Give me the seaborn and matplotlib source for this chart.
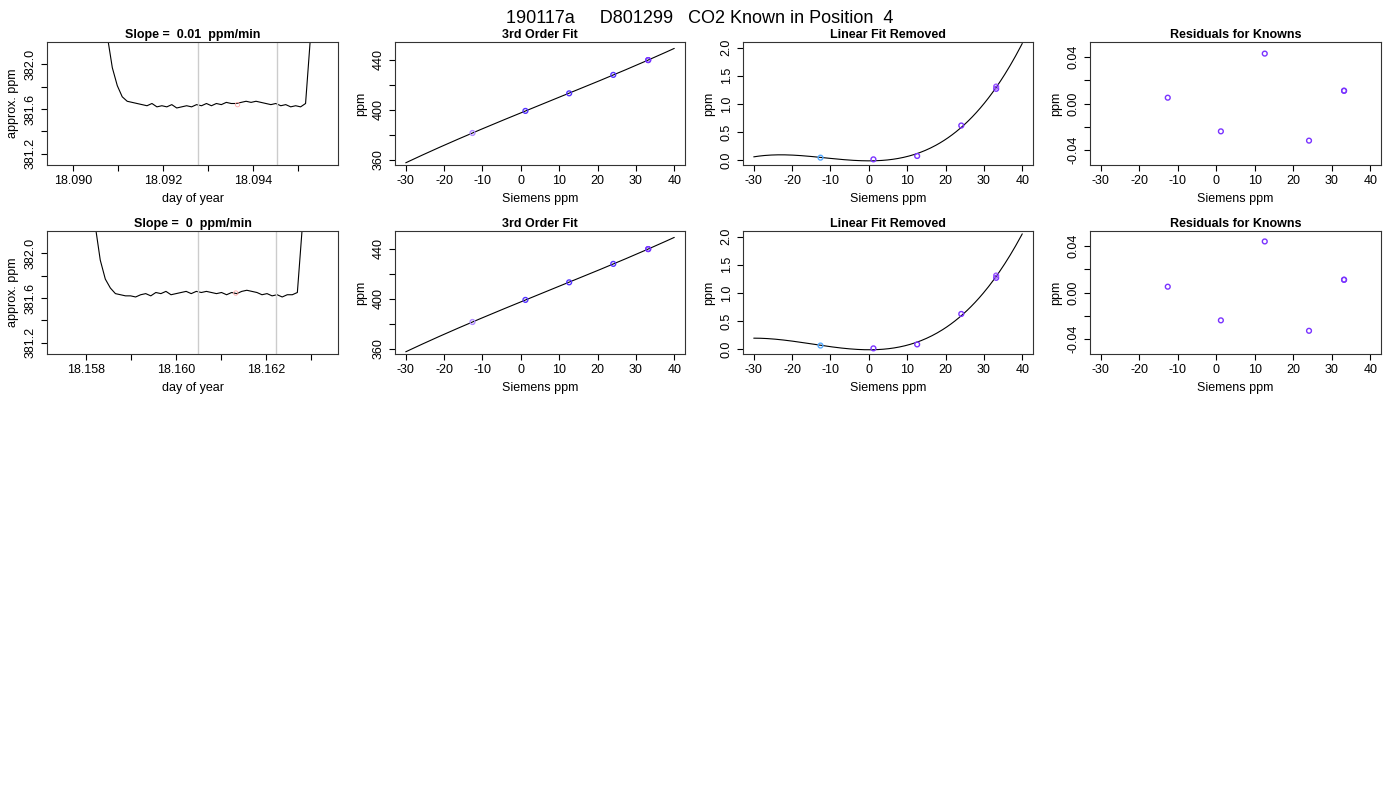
import numpy as np
import matplotlib.pyplot as plt
import seaborn as sns

sns.set_style("white")
plt.rcParams["font.family"] = ["Liberation Sans", "DejaVu Sans"]
plt.rcParams["axes.unicode_minus"] = False
plt.rcParams["text.color"] = "black"
plt.rcParams["axes.labelcolor"] = "black"
plt.rcParams["xtick.color"] = "black"
plt.rcParams["ytick.color"] = "black"

title = "190117a     D801299   CO2 Known in Position  4"
slopes = ["0.01", "0"]

# trace values (approx ppm), evenly spaced across each run
trace1_start, trace1_end = 18.09076, 18.09527
trace1 = [382.25, 381.97, 381.81, 381.71, 381.67, 381.66, 381.65, 381.64, 381.63, 381.65,
          381.62, 381.63, 381.62, 381.64, 381.61, 381.62, 381.63, 381.62, 381.64, 381.63,
          381.65, 381.63, 381.65, 381.64, 381.66, 381.65, 381.65, 381.66, 381.67, 381.66,
          381.67, 381.66, 381.65, 381.64, 381.65, 381.63, 381.64, 381.62, 381.63, 381.62,
          381.65, 382.25]
trace2_start, trace2_end = 18.15820, 18.16280
trace2 = [382.25, 381.94, 381.77, 381.69, 381.64, 381.63, 381.62, 381.62, 381.61, 381.63,
          381.64, 381.62, 381.65, 381.64, 381.66, 381.63, 381.64, 381.65, 381.66, 381.64,
          381.66, 381.65, 381.66, 381.65, 381.64, 381.65, 381.63, 381.65, 381.64, 381.66,
          381.67, 381.66, 381.65, 381.63, 381.64, 381.62, 381.63, 381.61, 381.63, 381.63,
          381.65, 382.25]
means = [(18.09365, 381.64), (18.16132, 381.645)]
vlines = [(18.09278, 18.09453), (18.16048, 18.16222)]
xlims = [(18.08942, 18.09588), (18.15713, 18.16359)]
xticks = [[18.090, 18.092, 18.094], [18.158, 18.160, 18.162]]

siemens = [-12.6, 1.2, 12.6, 24.1, 33.2, 33.2]
known = [381.5, 399.1, 413.1, 427.8, 439.6, 439.6]
lin_removed = [[0.05, 0.02, 0.08, 0.62, 1.27, 1.31], [0.07, 0.02, 0.09, 0.63, 1.27, 1.31]]
resid = [[0.005, -0.024, 0.043, -0.032, 0.011, 0.011], [0.005, -0.024, 0.044, -0.033, 0.011, 0.011]]
pt_colors = ["#55aaff", "#7a33ff", "#7a33ff", "#7a33ff", "#7a33ff", "#9a55ff"]
fit_colors = ["#b08cff", "#5533ff", "#5533ff", "#5533ff", "#5533ff", "#7a33ff"]

fig = plt.figure(figsize=(14, 8), dpi=100)
fig.text(0.5, 0.988, title, ha="center", va="top", fontsize=13)

W, H = 1400, 800
cols = [(47, 338), (395, 685), (743, 1033), (1090, 1381)]
rows = [(42, 165), (231, 354)]


def mk(c, r):
    x0, x1 = cols[c]
    y0, y1 = rows[r]
    return fig.add_axes([x0 / W, 1 - y1 / H, (x1 - x0) / W, (y1 - y0) / H])


def style(ax, t, xl, yl):
    ax.set_title(t, fontsize=9, fontweight="bold", pad=3)
    ax.set_xlabel(xl, fontsize=9)
    ax.set_ylabel(yl, fontsize=9)
    ax.tick_params(labelsize=9, length=4, direction="out", bottom=True, left=True)
    for lab in ax.get_yticklabels():
        lab.set_rotation(90)
        lab.set_va("center")
    for s in ax.spines.values():
        s.set_color("#333333")
        s.set_linewidth(0.8)


xs = np.linspace(-30, 40, 200)
for r in range(2):
    # trace
    ax = mk(0, r)
    st, en, tr = [(trace1_start, trace1_end, trace1), (trace2_start, trace2_end, trace2)][r]
    tt = np.linspace(st, en, len(tr))
    sns.lineplot(x=tt, y=tr, ax=ax, color="black", linewidth=0.8)
    ax.scatter([means[r][0]], [means[r][1]], s=10, facecolors="none", edgecolors="#ffaaaa",
               linewidths=0.6, zorder=3)
    for v in vlines[r]:
        ax.axvline(v, color="#cccccc", linewidth=1)
    ax.set_xlim(*xlims[r])
    ax.set_ylim(381.1, 382.2)
    ax.set_yticks([381.2, 381.4, 381.6, 381.8, 382.0])
    ax.set_yticklabels(["381.2", "", "381.6", "", "382.0"])
    mt = np.arange(xticks[r][0] - 0.001, xticks[r][-1] + 0.0015, 0.001)
    mt = [m for m in mt if xlims[r][0] <= m <= xlims[r][1]]
    ax.set_xticks(mt)
    ax.set_xticklabels([f"{m:.3f}" if any(abs(m - k) < 1e-7 for k in xticks[r]) else "" for m in mt])
    style(ax, f"Slope =  {slopes[r]}  ppm/min", "day of year", "approx. ppm")

    # 3rd order fit
    ax = mk(1, r)
    cf = np.polyfit(siemens, known, 3)
    sns.lineplot(x=xs, y=np.polyval(cf, xs), ax=ax, color="black", linewidth=0.8)
    ax.scatter(siemens, known, s=12, facecolors="none", edgecolors=fit_colors, linewidths=1, zorder=3)
    ax.set_xlim(-32.8, 42.8)
    ax.set_ylim(356, 454)
    ax.set_yticks([360, 380, 400, 420, 440])
    ax.set_yticklabels(["360", "", "400", "", "440"])
    ax.set_xticks(range(-30, 41, 10))
    style(ax, "3rd Order Fit", "Siemens ppm", "ppm")

    # linear fit removed
    ax = mk(2, r)
    cf = np.polyfit(siemens, lin_removed[r], 3)
    sns.lineplot(x=xs, y=np.polyval(cf, xs), ax=ax, color="black", linewidth=0.8)
    ax.scatter(siemens, lin_removed[r], s=12, facecolors="none", edgecolors=pt_colors, linewidths=1, zorder=3)
    ax.set_xlim(-32.8, 42.8)
    ax.set_ylim(-0.08, 2.1)
    ax.set_yticks([0, 0.5, 1.0, 1.5, 2.0])
    ax.set_xticks(range(-30, 41, 10))
    style(ax, "Linear Fit Removed", "Siemens ppm", "ppm")

    # residuals
    ax = mk(3, r)
    ax.scatter(siemens, resid[r], s=12, facecolors="none", edgecolors="#7a33ff", linewidths=1, zorder=3)
    ax.set_xlim(-32.8, 42.8)
    ax.set_ylim(-0.053, 0.053)
    ax.set_yticks([-0.04, -0.02, 0, 0.02, 0.04])
    ax.set_yticklabels(["-0.04", "", "0.00", "", "0.04"])
    ax.set_xticks(range(-30, 41, 10))
    style(ax, "Residuals for Knowns", "Siemens ppm", "ppm")

fig.savefig("out.png", dpi=100)
